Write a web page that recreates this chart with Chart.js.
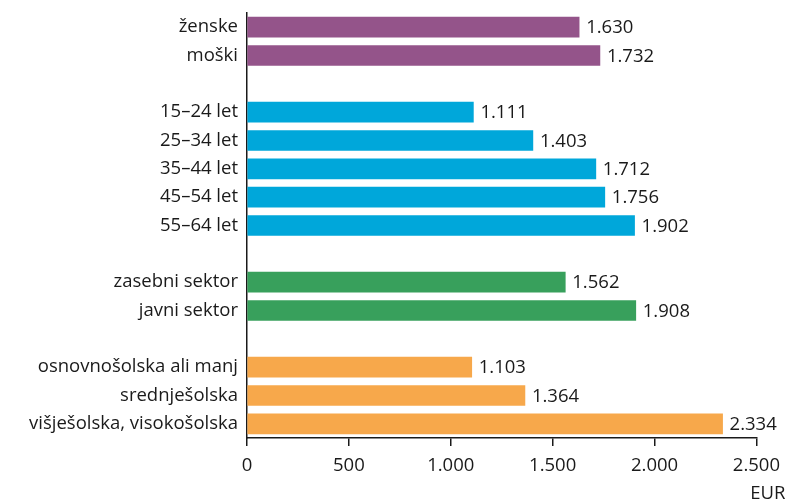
<!DOCTYPE html>
<html>
<head>
<meta charset="utf-8">
<script src="https://cdn.jsdelivr.net/npm/chart.js@4/dist/chart.umd.min.js"></script>
<style>
    html, body { margin: 0; padding: 0; background: #ffffff; }
    #wrap { width: 789px; height: 503px; }
</style>
</head>
<body>
<div id="wrap"><canvas id="grafico"></canvas></div>
<script>
// podatki po skupinah
const spolOznake = ['ženske', 'moški'];
const spolVrednosti = [1630, 1732];

const starostOznake = ['15–24 let', '25–34 let', '35–44 let', '45–54 let', '55–64 let'];
const starostVrednosti = [1111, 1403, 1712, 1756, 1902];

const sektorOznake = ['zasebni sektor', 'javni sektor'];
const sektorVrednosti = [1562, 1908];

const izobrazbaOznake = ['osnovnošolska ali manj', 'srednješolska', 'višješolska, visokošolska'];
const izobrazbaVrednosti = [1103, 1364, 2334];

const osTicks = [0, 500, 1000, 1500, 2000, 2500];
const enota = 'EUR';

const skupine = [
    { oznake: spolOznake, vrednosti: spolVrednosti, barva: '#94548A' },
    { oznake: starostOznake, vrednosti: starostVrednosti, barva: '#00A7DA' },
    { oznake: sektorOznake, vrednosti: sektorVrednosti, barva: '#38A05C' },
    { oznake: izobrazbaOznake, vrednosti: izobrazbaVrednosti, barva: '#F7A84B' }
];

// zdruzi skupine, med njimi prazna vrstica
const labels = [];
const data = [];
const barve = [];
skupine.forEach((s, i) => {
    if (i > 0) {
        labels.push('');
        data.push(null);
        barve.push('rgba(0,0,0,0)');
    }
    s.oznake.forEach((o, j) => {
        labels.push(o);
        data.push(s.vrednosti[j]);
        barve.push(s.barva);
    });
});

function formatiraj(v) {
    return String(v).replace(/\B(?=(\d{3})+(?!\d))/g, '.');
}

const pisava = '"Open Sans", "Noto Sans", sans-serif';

const vrednostiPlugin = {
    id: 'vrednosti',
    afterDatasetsDraw(chart) {
        const ctx = chart.ctx;
        const meta = chart.getDatasetMeta(0);
        ctx.save();
        ctx.font = '18.5px ' + pisava;
        ctx.fillStyle = '#1a1a1a';
        ctx.textAlign = 'left';
        ctx.textBaseline = 'middle';
        meta.data.forEach((bar, i) => {
            if (data[i] == null) return;
            ctx.fillText(formatiraj(data[i]), bar.x + 7, bar.y + 1);
        });
        // enota pod osjo
        ctx.textAlign = 'right';
        ctx.fillText(enota, chart.chartArea.right + 29, chart.chartArea.bottom + 56);
        ctx.restore();
    }
};

new Chart(document.getElementById('grafico'), {
    type: 'bar',
    data: {
        labels: labels,
        datasets: [{
            data: data,
            backgroundColor: barve,
            barThickness: 20,
            borderWidth: 0
        }]
    },
    options: {
        indexAxis: 'y',
        responsive: true,
        maintainAspectRatio: false,
        animation: false,
        layout: {
            padding: { top: 13, right: 31, bottom: 0, left: 0 }
        },
        plugins: {
            legend: { display: false },
            tooltip: { enabled: false }
        },
        scales: {
            x: {
                min: 0,
                max: 2500,
                afterBuildTicks: (axis) => {
                    axis.ticks = osTicks.map(v => ({ value: v }));
                },
                afterFit: (axis) => {
                    axis.height = 65;
                },
                grid: {
                    drawOnChartArea: false,
                    drawTicks: true,
                    tickLength: 8,
                    color: '#1a1a1a',
                    lineWidth: 1.5
                },
                border: { color: '#1a1a1a', width: 1.5 },
                ticks: {
                    color: '#1a1a1a',
                    font: { family: pisava, size: 18.5 },
                    padding: 9,
                    maxRotation: 0,
                    callback: (v) => formatiraj(v)
                }
            },
            y: {
                afterFit: (axis) => {
                    axis.width = 247;
                    axis.paddingTop = 0;
                    axis.paddingBottom = 0;
                },
                grid: { display: false, drawTicks: false },
                border: { color: '#1a1a1a', width: 1.5 },
                ticks: {
                    color: '#1a1a1a',
                    font: { family: pisava, size: 18.5 },
                    padding: 9,
                    autoSkip: false
                }
            }
        }
    },
    plugins: [vrednostiPlugin]
});
</script>
</body>
</html>
